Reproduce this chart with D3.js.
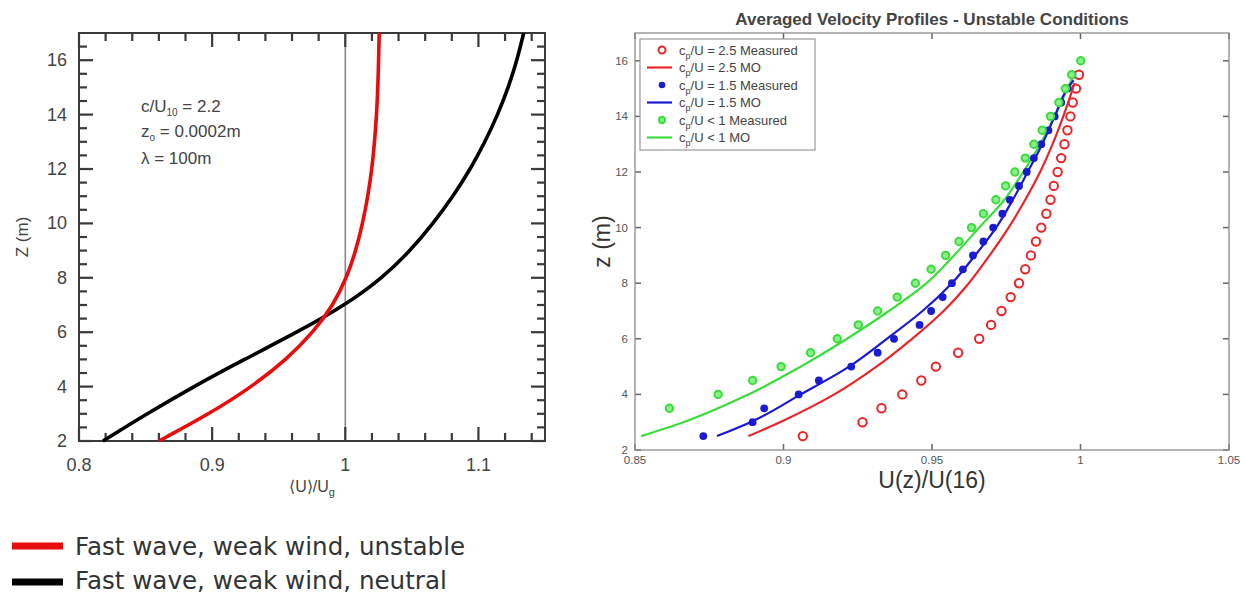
<!DOCTYPE html>
<html><head><meta charset="utf-8">
<script src="https://cdn.jsdelivr.net/npm/d3@7"></script>
<style>body{margin:0;background:#fff}svg{display:block}</style>
</head><body>
<svg id="c" width="1246" height="595"></svg>
<script>
// ---------- Left chart data ----------
const leftZ = [2,3,4,5,6,7,8,9,10,11,12,13,14,15,16,17];
const unstableU = [0.860,0.898,0.930,0.956,0.976,0.991,1.001,1.008,1.013,1.017,1.020,1.022,1.0235,1.0245,1.025,1.0255];
const neutralU  = [0.818,0.851,0.886,0.924,0.964,1.000,1.028,1.049,1.066,1.081,1.094,1.105,1.1145,1.1225,1.129,1.134];
const leftXTicks = [0.8,0.9,1,1.1];
const leftXMinor = [0.82,0.84,0.86,0.88,0.92,0.94,0.96,0.98,1.02,1.04,1.06,1.08,1.12,1.14];
const leftYTicks = [2,4,6,8,10,12,14,16];
const leftYMinor = [2.5,3,3.5,4.5,5,5.5,6.5,7,7.5,8.5,9,9.5,10.5,11,11.5,12.5,13,13.5,14.5,15,15.5,16.5];
const leftLegend = ["Fast wave, weak wind, unstable","Fast wave, weak wind, neutral"];

// ---------- Right chart data ----------
const redMeasZ  = [2.5,3,3.5,4,4.5,5,5.5,6,6.5,7,7.5,8,8.5,9,9.5,10,10.5,11,11.5,12,12.5,13,13.5,14,14.5,15,15.5];
const redMeasU  = [0.9065,0.9266,0.933,0.940,0.9464,0.9513,0.9588,0.9659,0.9699,0.9734,0.9765,0.9793,0.9814,0.9833,0.985,0.9868,0.9885,0.9899,0.991,0.9923,0.9935,0.9946,0.9956,0.9966,0.9974,0.9985,0.9995];
const blueMeasZ = [2.5,3,3.5,4,4.5,5,5.5,6,6.5,7,7.5,8,8.5,9,9.5,10,10.5,11,11.5,12,12.5,13,13.5,14,14.5,15,15.5];
const blueMeasU = [0.873,0.8896,0.8935,0.9051,0.9119,0.9228,0.9317,0.9372,0.9458,0.9497,0.9536,0.9567,0.9604,0.9638,0.9673,0.9706,0.9737,0.9762,0.9793,0.9819,0.9843,0.9868,0.9892,0.9913,0.9935,0.9956,0.9973];
const greenMeasZ = [3.5,4,4.5,5,5.5,6,6.5,7,7.5,8,8.5,9,9.5,10,10.5,11,11.5,12,12.5,13,13.5,14,14.5,15,15.5,16];
const greenMeasU = [0.8616,0.878,0.8896,0.8992,0.9091,0.9181,0.9252,0.9317,0.9383,0.9444,0.9497,0.9546,0.9591,0.9633,0.9673,0.9715,0.9748,0.9779,0.9814,0.9843,0.9871,0.9899,0.9927,0.9949,0.997,1.0001];
const greenMOZ = [2.5,3,4,5,6,7,8,9,10,11,12,13,14,15,15.5];
const greenMOU = [0.8521,0.8663,0.8882,0.9058,0.9214,0.9355,0.9482,0.9574,0.9659,0.9744,0.9807,0.9864,0.9913,0.9956,0.9977];
const blueMOZ = [2.5,3,4,5,6,7,8,9,10,11,12,13,14,15,15.3];
const blueMOU = [0.8776,0.8889,0.9058,0.9221,0.9348,0.9468,0.9567,0.9645,0.9716,0.9772,0.9822,0.9871,0.9913,0.9956,0.9977];
const redMOZ = [2.5,3,4,5,6,7,8,9,10,11,12,13,14,15,15.2];
const redMOU = [0.8882,0.8988,0.9171,0.9313,0.9433,0.9539,0.9624,0.9694,0.9758,0.9814,0.9864,0.9906,0.9942,0.9974,0.998];
const rightXTicks = [0.85,0.9,0.95,1,1.05];
const rightXTickLabels = ["0.85","0.9","0.95","1","1.05"];
const rightYTicks = [2,4,6,8,10,12,14,16];
const rightLegend = [
  {sub:"p", txt:"/U = 2.5 Measured", kind:"red-o"},
  {sub:"p", txt:"/U = 2.5 MO", kind:"red-l"},
  {sub:"p", txt:"/U = 1.5 Measured", kind:"blue-o"},
  {sub:"p", txt:"/U = 1.5 MO", kind:"blue-l"},
  {sub:"p", txt:"/U < 1 Measured", kind:"green-o"},
  {sub:"p", txt:"/U < 1 MO", kind:"green-l"}
];

const RED="#e8262a", BLUE="#1a1ad0", GREEN="#3ddc3d";
const svg = d3.select("#c");
const lf = "Liberation Sans, Arial, Helvetica, sans-serif";

// inward ticks drawn as small rectangles from the scales
function frameTicks(g, xs, ys, box, xv, yv, len, col, w){
  xv.forEach(v=>{ const x = xs(v);
    g.append("rect").attr("x",x-w/2).attr("y",box.y1-len).attr("width",w).attr("height",len).attr("fill",col);
    g.append("rect").attr("x",x-w/2).attr("y",box.y0).attr("width",w).attr("height",len).attr("fill",col);
  });
  yv.forEach(v=>{ const y = ys(v);
    g.append("rect").attr("x",box.x0).attr("y",y-w/2).attr("width",len).attr("height",w).attr("fill",col);
    g.append("rect").attr("x",box.x1-len).attr("y",y-w/2).attr("width",len).attr("height",w).attr("fill",col);
  });
}

// ================= LEFT CHART =================
const L = {x0:79, x1:545, y0:33, y1:441};
const lx = d3.scaleLinear().domain([0.8,1.15]).range([L.x0,L.x1]);
const ly = d3.scaleLinear().domain([2,17]).range([L.y1,L.y0]);
const gl = svg.append("g");

gl.append("line").attr("x1",lx(1)).attr("x2",lx(1)).attr("y1",L.y0).attr("y2",L.y1)
  .attr("stroke","#8a8a8a").attr("stroke-width",1.6);

frameTicks(gl, lx, ly, L, leftXMinor, leftYMinor, 8, "#3a3a3a", 2.2);
frameTicks(gl, lx, ly, L, leftXTicks, leftYTicks, 14, "#3a3a3a", 2.2);

gl.append("rect").attr("x",L.x0).attr("y",L.y0).attr("width",L.x1-L.x0).attr("height",L.y1-L.y0)
  .attr("fill","none").attr("stroke","#3a3a3a").attr("stroke-width",2);

gl.selectAll(".xt").data(leftXTicks).enter().append("text")
  .attr("x",d=>lx(d)).attr("y",471).attr("text-anchor","middle")
  .attr("font-family",lf).attr("font-size",18).attr("fill","#444").text(d=>d3.format("")(d));
gl.selectAll(".yt").data(leftYTicks).enter().append("text")
  .attr("x",L.x0-12).attr("y",d=>ly(d)+6).attr("text-anchor","end")
  .attr("font-family",lf).attr("font-size",18).attr("fill","#444").text(d=>d);

const xl = gl.append("text").attr("x",(L.x0+L.x1)/2).attr("y",492).attr("text-anchor","middle")
  .attr("font-family",lf).attr("font-size",16).attr("fill","#444");
xl.append("tspan").text("\u27E8U\u27E9/U");
xl.append("tspan").attr("font-size",11).attr("dy",4).text("g");
gl.append("text").attr("transform",`translate(28,${(L.y0+L.y1)/2}) rotate(-90)`).attr("text-anchor","middle")
  .attr("font-family",lf).attr("font-size",17).attr("fill","#444").text("Z (m)");

const ann = gl.append("g").attr("font-family",lf).attr("font-size",17).attr("fill","#444");
let t1 = ann.append("text").attr("x",141).attr("y",112);
t1.append("tspan").text("c/U"); t1.append("tspan").attr("font-size",10).attr("dy",4).text("10");
t1.append("tspan").attr("dy",-4).text(" = 2.2");
let t2 = ann.append("text").attr("x",141).attr("y",137);
t2.append("tspan").text("z"); t2.append("tspan").attr("font-size",10).attr("dy",4).text("o");
t2.append("tspan").attr("dy",-4).text(" = 0.0002m");
ann.append("text").attr("x",141).attr("y",164).text("\u03BB = 100m");

const lline = d3.line().curve(d3.curveBasis);
gl.append("path").attr("d",lline(leftZ.map((z,i)=>[lx(neutralU[i]),ly(z)])))
  .attr("fill","none").attr("stroke","#000").attr("stroke-width",3.6);
gl.append("path").attr("d",lline(leftZ.map((z,i)=>[lx(unstableU[i]),ly(z)])))
  .attr("fill","none").attr("stroke","#e80c0c").attr("stroke-width",3.6);

const bl = svg.append("g");
[["#e80c0c",546,555],["#000",582,589]].forEach((r,i)=>{
  bl.append("line").attr("x1",12).attr("x2",63).attr("y1",r[1]).attr("y2",r[1]).attr("stroke",r[0]).attr("stroke-width",7);
  bl.append("text").attr("x",75).attr("y",r[2]).attr("font-family","DejaVu Sans, sans-serif")
    .attr("font-size",24.6).attr("fill","#333").text(leftLegend[i]);
});

// ================= RIGHT CHART =================
const R = {x0:635, x1:1229, y0:33, y1:450};
const rx = d3.scaleLinear().domain([0.85,1.05]).range([R.x0,R.x1]);
const ry = d3.scaleLinear().domain([2,17]).range([R.y1,R.y0]);
const gr = svg.append("g");
frameTicks(gr, rx, ry, R, rightXTicks, rightYTicks, 6, "#666", 1.5);
gr.append("rect").attr("x",R.x0).attr("y",R.y0).attr("width",R.x1-R.x0).attr("height",R.y1-R.y0)
  .attr("fill","none").attr("stroke","#8c8c8c").attr("stroke-width",1.3);
gr.selectAll(".rxt").data(rightXTicks).enter().append("text")
  .attr("x",d=>rx(d)).attr("y",464).attr("text-anchor","middle")
  .attr("font-family",lf).attr("font-size",11.5).attr("fill","#555").text((d,i)=>rightXTickLabels[i]);
gr.selectAll(".ryt").data(rightYTicks).enter().append("text")
  .attr("x",R.x0-7).attr("y",d=>ry(d)+4).attr("text-anchor","end")
  .attr("font-family",lf).attr("font-size",11.5).attr("fill","#555").text(d=>d);

gr.append("text").attr("x",(R.x0+R.x1)/2).attr("y",25).attr("text-anchor","middle")
  .attr("font-family",lf).attr("font-weight","bold").attr("font-size",17).attr("fill","#444")
  .text("Averaged Velocity Profiles - Unstable Conditions");
gr.append("text").attr("x",(R.x0+R.x1)/2).attr("y",488).attr("text-anchor","middle")
  .attr("font-family",lf).attr("font-size",23).attr("fill","#333").text("U(z)/U(16)");
gr.append("text").attr("transform",`translate(610,${(R.y0+R.y1)/2}) rotate(-90)`).attr("text-anchor","middle")
  .attr("font-family",lf).attr("font-size",23).attr("fill","#333").text("z (m)");

const rline = d3.line().curve(d3.curveMonotoneY);
[[greenMOZ,greenMOU,GREEN],[blueMOZ,blueMOU,BLUE],[redMOZ,redMOU,RED]].forEach(s=>{
  gr.append("path").attr("d",rline(s[0].map((z,i)=>[rx(s[1][i]),ry(z)])))
    .attr("fill","none").attr("stroke",s[2]).attr("stroke-width",2.2);
});
gr.selectAll(".rc").data(redMeasZ).enter().append("circle")
  .attr("cx",(z,i)=>rx(redMeasU[i])).attr("cy",z=>ry(z)).attr("r",4.2)
  .attr("fill","none").attr("stroke",RED).attr("stroke-width",2);
gr.selectAll(".bc").data(blueMeasZ).enter().append("circle")
  .attr("cx",(z,i)=>rx(blueMeasU[i])).attr("cy",z=>ry(z)).attr("r",3.9)
  .attr("fill",BLUE);
gr.selectAll(".gc").data(greenMeasZ).enter().append("circle")
  .attr("cx",(z,i)=>rx(greenMeasU[i])).attr("cy",z=>ry(z)).attr("r",3.7)
  .attr("fill","#8af08a").attr("stroke",GREEN).attr("stroke-width",2);

const lg = gr.append("g");
lg.append("rect").attr("x",640).attr("y",39).attr("width",175).attr("height",111)
  .attr("fill","#fff").attr("stroke","#999").attr("stroke-width",1.2);
rightLegend.forEach((it,i)=>{
  const cy = 50 + i*17.5;
  const col = it.kind.startsWith("red")?RED:it.kind.startsWith("blue")?BLUE:GREEN;
  if(it.kind.endsWith("-l")){
    lg.append("line").attr("x1",647).attr("x2",672).attr("y1",cy).attr("y2",cy).attr("stroke",col).attr("stroke-width",2.2);
  } else if(it.kind==="red-o"){
    lg.append("circle").attr("cx",662).attr("cy",cy).attr("r",3.5).attr("fill","none").attr("stroke",col).attr("stroke-width",2);
  } else if(it.kind==="blue-o"){
    lg.append("circle").attr("cx",662).attr("cy",cy).attr("r",3.3).attr("fill",col);
  } else {
    lg.append("circle").attr("cx",662).attr("cy",cy).attr("r",3.2).attr("fill","#8af08a").attr("stroke",col).attr("stroke-width",2);
  }
  const t = lg.append("text").attr("x",679).attr("y",cy+4.5).attr("font-family",lf).attr("font-size",13).attr("fill","#444");
  t.append("tspan").text("c");
  t.append("tspan").attr("font-size",9).attr("dy",4).text(it.sub);
  t.append("tspan").attr("dy",-4).text(it.txt);
});
</script>
</body></html>
